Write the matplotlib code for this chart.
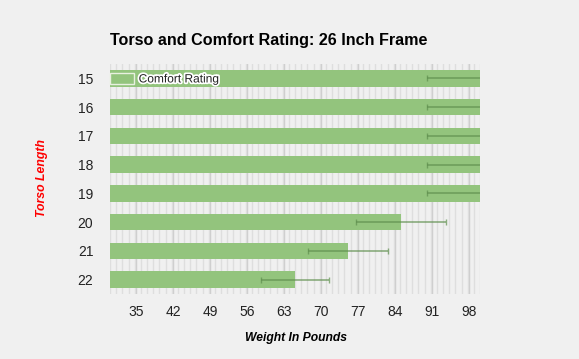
import numpy as np
import matplotlib.pyplot as plt
from matplotlib.ticker import FixedLocator
import matplotlib.patheffects as pe

plt.rcParams['font.family'] = ['Liberation Sans', 'DejaVu Sans']

torso = ['15', '16', '17', '18', '19', '20', '21', '22']
comfort = [100, 100, 100, 100, 100, 85, 75, 65]
err = [10, 10, 10, 10, 10, 8.5, 7.5, 6.5]
xticks = [35, 42, 49, 56, 63, 70, 77, 84, 91, 98]

bg = '#f0f0f0'
fig = plt.figure(figsize=(5.79, 3.59), dpi=100, facecolor=bg)
ax = fig.add_axes([110/579, 1-294/359, 370/579, 230/359], facecolor=bg)
ax.set_axisbelow(True)

y = np.arange(len(torso))
ax.barh(y, comfort, height=0.58, color='#93c47d', label='Comfort Rating', zorder=3)
ax.errorbar(comfort, y, xerr=err, fmt='none', ecolor='#5f8f4e', alpha=0.7,
            elinewidth=1.2, capsize=2.5, capthick=1, zorder=4)

ax.set_xlim(30, 100)
ax.set_ylim(len(torso)-0.5, -0.5)
ax.set_yticks(y)
ax.set_yticklabels(torso)
ax.xaxis.set_major_locator(FixedLocator(xticks))
minors = [v for v in np.arange(30, 100.01, 7/6) if all(abs(v-t) > 0.1 for t in xticks)]
ax.xaxis.set_minor_locator(FixedLocator(minors))
ax.grid(axis='x', which='major', color='#cccccc', linewidth=1)
ax.grid(axis='x', which='minor', color='#dedede', linewidth=1)
ax.tick_params(which='both', length=0, labelsize=10, colors='#222222')
ax.tick_params(axis='y', pad=12)
ax.tick_params(axis='x', pad=8)
for s in ax.spines.values():
    s.set_visible(False)

fig.text(110/579, 1-40/359, 'Torso and Comfort Rating: 26 Inch Frame',
         fontsize=11.6, fontweight='bold', va='center', ha='left')
fig.text(296/579, 1-338/359, 'Weight In Pounds', fontsize=8.7,
         fontweight='bold', style='italic', ha='center', va='center')
fig.text(42/579, 1-178/359, 'Torso Length', fontsize=8.8, color='red',
         fontweight='bold', style='italic', rotation=90, ha='center', va='center')

leg = ax.legend(loc='upper left', bbox_to_anchor=(0, 1-9/230), frameon=False,
                fontsize=8.6, handlelength=2.0, handleheight=1.0,
                handletextpad=0.4, borderaxespad=0, borderpad=0)
for t in leg.get_texts():
    t.set_path_effects([pe.withStroke(linewidth=2.5, foreground='white')])
    t.set_color('#222222')
for h in leg.legend_handles:
    h.set_edgecolor('#e8f0e0')
    h.set_linewidth(1)

fig.savefig('out.png', dpi=100, facecolor=bg)
